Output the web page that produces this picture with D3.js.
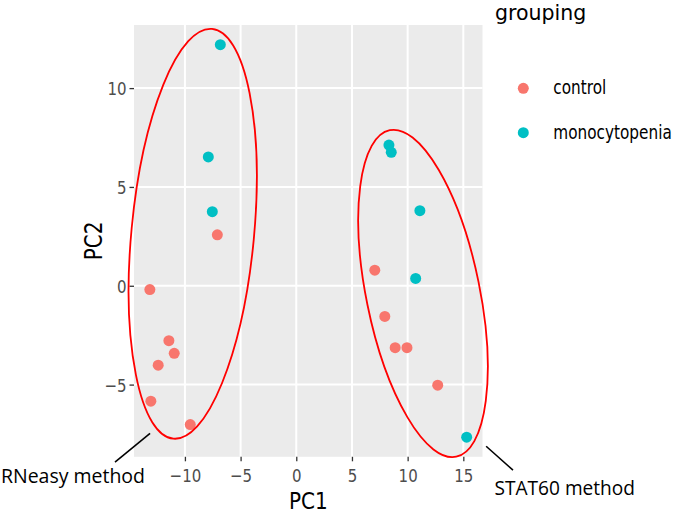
<!DOCTYPE html>
<html>
<head>
<meta charset="utf-8">
<script src="https://cdn.jsdelivr.net/npm/d3@7"></script>
<style>
  html, body { margin: 0; padding: 0; background: #fff; }
  svg { display: block; }
</style>
</head>
<body>
<svg id="chart" width="685" height="514"></svg>
<script>
// ---- data ----
const groups = ["control", "monocytopenia"];
const groupColors = ["#F8766D", "#00BFC4"];
const controlPC1 = [-7.09, -13.15, -11.44, -10.96, -12.4, -13.06, -9.52, 7.05, 7.95, 8.88, 9.94, 12.7];
const controlPC2 = [2.58, -0.19, -2.78, -3.42, -4.02, -5.84, -7.02, 0.79, -1.55, -3.13, -3.13, -5.03];
const monoPC1 = [-6.82, -7.9, -7.54, 8.32, 8.53, 11.1, 10.72, 15.3];
const monoPC2 = [12.2, 6.52, 3.75, 7.12, 6.75, 3.8, 0.37, -7.66];
const xTicks = [-10, -5, 0, 5, 10, 15];
const yTicks = [-5, 0, 5, 10];
const xTitle = "PC1";
const yTitle = "PC2";
const legendTitle = "grouping";
const ellipseLabels = ["RNeasy method", "STAT60 method"];

// ---- layout ----
const panel = { left: 134, right: 482.5, top: 25, bottom: 456.8 };
const stretch = 1.22;
const svg = d3.select("#chart");

const points = [];
controlPC1.forEach((v, i) => points.push({ x: v, y: controlPC2[i], g: groups[0] }));
monoPC1.forEach((v, i) => points.push({ x: v, y: monoPC2[i], g: groups[1] }));

const xExt = d3.extent(points, d => d.x), yExt = d3.extent(points, d => d.y);
const xPad = (xExt[1] - xExt[0]) * 0.05, yPad = (yExt[1] - yExt[0]) * 0.05;
const x = d3.scaleLinear().domain([xExt[0] - xPad, xExt[1] + xPad]).range([panel.left, panel.right]);
const y = d3.scaleLinear().domain([yExt[0] - yPad, yExt[1] + yPad]).range([panel.bottom, panel.top]);
const color = d3.scaleOrdinal().domain(groups).range(groupColors);

// panel background
svg.append("rect").attr("x", panel.left).attr("y", panel.top)
  .attr("width", panel.right - panel.left).attr("height", panel.bottom - panel.top)
  .attr("fill", "#ebebeb");

// grid
svg.append("g").selectAll("line").data(xTicks).join("line")
  .attr("x1", d => x(d)).attr("x2", d => x(d)).attr("y1", panel.top).attr("y2", panel.bottom)
  .attr("stroke", "#fff").attr("stroke-width", 2);
svg.append("g").selectAll("line").data(yTicks).join("line")
  .attr("y1", d => y(d)).attr("y2", d => y(d)).attr("x1", panel.left).attr("x2", panel.right)
  .attr("stroke", "#fff").attr("stroke-width", 2);

// axes
const xAxis = svg.append("g").attr("transform", `translate(0,${panel.bottom})`)
  .call(d3.axisBottom(x).tickValues(xTicks).tickSize(4.5).tickSizeOuter(0).tickFormat(d3.format("d")));
const yAxis = svg.append("g").attr("transform", `translate(${panel.left},0)`)
  .call(d3.axisLeft(y).tickValues(yTicks).tickSize(4.5).tickSizeOuter(0).tickFormat(d3.format("d")));
[xAxis, yAxis].forEach(a => {
  a.select(".domain").remove();
  a.selectAll(".tick line").attr("stroke", "#333").attr("stroke-width", 1.3);
  a.selectAll(".tick text").remove();
});
xAxis.selectAll(".tick").append("text")
  .attr("transform", `translate(0,25) scale(1,${stretch})`)
  .attr("text-anchor", "middle").attr("fill", "#4d4d4d")
  .style("font-family", "DejaVu Sans").style("font-size", "15px")
  .text(d => d3.format("d")(d));
yAxis.selectAll(".tick").append("text")
  .attr("transform", `translate(-7.5,6.6) scale(1,${stretch})`)
  .attr("text-anchor", "end").attr("fill", "#4d4d4d")
  .style("font-family", "DejaVu Sans").style("font-size", "15px")
  .text(d => d3.format("d")(d));

// axis titles
svg.append("text")
  .attr("transform", `translate(${(panel.left + panel.right) / 2},508.5) scale(1,1.12)`)
  .attr("text-anchor", "middle").style("font-family", "DejaVu Sans").style("font-size", "20px")
  .attr("fill", "#000").text(xTitle);
svg.append("text")
  .attr("transform", `translate(101.5,${(panel.top + panel.bottom) / 2}) rotate(-90) scale(1,${stretch})`)
  .attr("text-anchor", "middle").style("font-family", "DejaVu Sans").style("font-size", "20px")
  .attr("fill", "#000").text(yTitle);

// points
svg.append("g").selectAll("circle").data(points).join("circle")
  .attr("cx", d => x(d.x)).attr("cy", d => y(d.y)).attr("r", 5.5)
  .attr("fill", d => color(d.g));

// ellipses (annotation) - center in data units, semi-axes in px, rotation in degrees
const ellipses = [
  { cx: -9.3, cy: 2.63, rx: 61.3, ry: 205.8, rot: 5.4 },
  { cx: 11.38, cy: -0.39, rx: 56.7, ry: 166.6, rot: -11.5 }
];
svg.append("g").selectAll("ellipse").data(ellipses).join("ellipse")
  .attr("transform", d => `translate(${x(d.cx)},${y(d.cy)}) rotate(${d.rot})`)
  .attr("rx", d => d.rx).attr("ry", d => d.ry)
  .attr("fill", "none").attr("stroke", "#ff0000").attr("stroke-width", 1.8);

// annotation leader lines (data units)
const leaders = [
  { x1: -16.28, y1: -8.92, x2: -13.13, y2: -7.47 },
  { x1: 17.05, y1: -8.12, x2: 19.46, y2: -9.33 }
];
svg.append("g").selectAll("line").data(leaders).join("line")
  .attr("x1", d => x(d.x1)).attr("y1", d => y(d.y1))
  .attr("x2", d => x(d.x2)).attr("y2", d => y(d.y2))
  .attr("stroke", "#000").attr("stroke-width", 1.6);

const annoText = [
  { t: ellipseLabels[0], x: 1, y: 483, w: 144 },
  { t: ellipseLabels[1], x: 494.5, y: 495, w: 140.5 }
];
svg.append("g").selectAll("text").data(annoText).join("text")
  .attr("x", d => d.x).attr("y", d => d.y)
  .attr("textLength", d => d.w).attr("lengthAdjust", "spacingAndGlyphs")
  .style("font-family", "Open Sans").style("font-size", "19.5px").attr("fill", "#000")
  .text(d => d.t);

// legend
svg.append("text")
  .attr("x", 495).attr("y", 20)
  .style("font-family", "DejaVu Sans").style("font-size", "20.5px").attr("fill", "#000")
  .text(legendTitle);
const leg = svg.append("g").selectAll("g").data(groups).join("g")
  .attr("transform", (d, i) => `translate(523.3,${88.3 + i * 44.4})`);
leg.append("circle").attr("r", 5.5).attr("fill", d => color(d));
leg.append("text")
  .attr("transform", `translate(30,6) scale(1,${stretch})`)
  .style("font-family", "DejaVu Sans").style("font-size", "15.3px").attr("fill", "#000")
  .text(d => d);
</script>
</body>
</html>
